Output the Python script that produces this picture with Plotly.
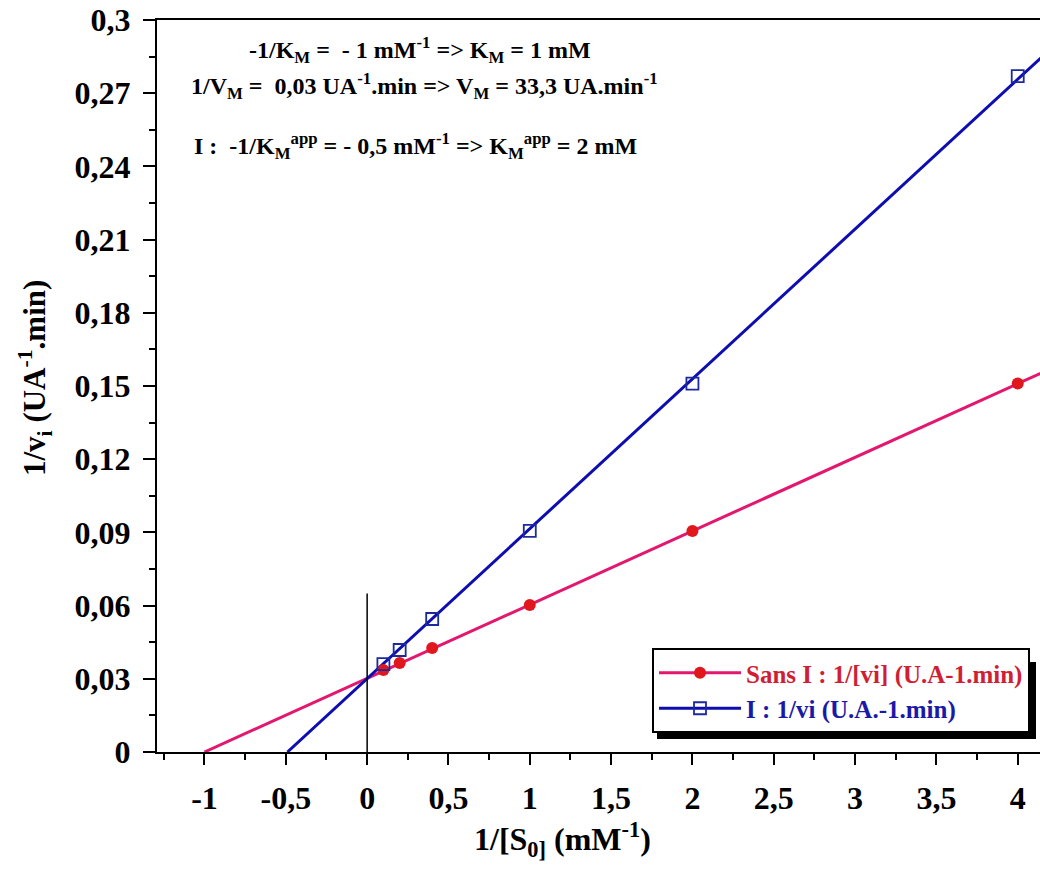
import plotly.graph_objects as go

# ---- data ----
inv_s = [0.1, 0.2, 0.4, 1, 2, 4]
sans_i = [0.0336, 0.0365, 0.0426, 0.0602, 0.0906, 0.151]
avec_i = [0.036, 0.0418, 0.0545, 0.0906, 0.151, 0.277]

sans_fit_x = [-1.0, 4.2]
sans_fit_y = [0.0, 0.157]
avec_fit_x = [-0.49, 4.2]
avec_fit_y = [0.0, 0.288]

x_tick_vals = [-1, -0.5, 0, 0.5, 1, 1.5, 2, 2.5, 3, 3.5, 4]
x_tick_text = ["-1", "-0,5", "0", "0,5", "1", "1,5", "2", "2,5", "3", "3,5", "4"]
y_tick_vals = [0, 0.03, 0.06, 0.09, 0.12, 0.15, 0.18, 0.21, 0.24, 0.27, 0.3]
y_tick_text = ["0", "0,03", "0,06", "0,09", "0,12", "0,15", "0,18", "0,21", "0,24", "0,27", "0,3"]

name_sans = "Sans I : 1/[vi] (U.A-1.min)"
name_avec = "I : 1/vi (U.A.-1.min)"

PINK = "#e3176e"
RED = "#e0181e"
BLUE = "#0d0db0"
BLUE_MK = "#1c2a9c"
SERIF = "Liberation Serif"

W, H = 1040, 875
L, R, T, B = 157, 0, 20, 123
PW, PH = W - L - R, H - T - B


def px(xp):
    return (xp - L) / PW


def py(yp):
    return (H - B - yp) / PH


fig = go.Figure()

fig.add_trace(go.Scatter(x=sans_fit_x, y=sans_fit_y, mode="lines",
                         line=dict(color=PINK, width=3), showlegend=False, hoverinfo="skip"))
fig.add_trace(go.Scatter(x=avec_fit_x, y=avec_fit_y, mode="lines",
                         line=dict(color=BLUE, width=3), showlegend=False, hoverinfo="skip"))
fig.add_trace(go.Scatter(x=inv_s, y=sans_i, mode="markers",
                         marker=dict(symbol="circle", size=12, color=RED), showlegend=False))
fig.add_trace(go.Scatter(x=inv_s, y=avec_i, mode="markers",
                         marker=dict(symbol="square-open", size=12, color=BLUE_MK, line=dict(width=1.8)),
                         showlegend=False))

# legend entries
fig.add_trace(go.Scatter(x=[None], y=[None], mode="lines+markers",
                         name="<span style='color:#d01f35'>" + name_sans + "</span>",
                         line=dict(color=PINK, width=3),
                         marker=dict(symbol="circle", size=12, color=RED)))
fig.add_trace(go.Scatter(x=[None], y=[None], mode="lines+markers",
                         name="<span style='color:#1a1aa8'>" + name_avec + "</span>",
                         line=dict(color=BLUE, width=3),
                         marker=dict(symbol="square-open", size=12, color=BLUE_MK, line=dict(width=1.8))))

# vertical reference line at x = 0
fig.add_shape(type="line", x0=0, x1=0, y0=0, y1=0.065, xref="x", yref="y",
              line=dict(color="black", width=1.5))

# legend shadow
fig.add_shape(type="rect", xref="paper", yref="paper",
              x0=px(657), x1=px(1036), y0=py(739), y1=py(662),
              fillcolor="black", line=dict(width=0), layer="above")

ann_font = dict(family=SERIF, size=24, color="black", weight="bold")
fig.add_annotation(text="-1/K<sub>M</sub> =  - 1 mM<sup>-1</sup> => K<sub>M</sub> = 1 mM",
                   xref="paper", yref="paper", x=px(420), y=py(50), showarrow=False,
                   font=ann_font, xanchor="center", yanchor="middle")
fig.add_annotation(text="1/V<sub>M</sub> =  0,03 UA<sup>-1</sup>.min => V<sub>M</sub> = 33,3 UA.min<sup>-1</sup>",
                   xref="paper", yref="paper", x=px(424), y=py(86), showarrow=False,
                   font=ann_font, xanchor="center", yanchor="middle")
fig.add_annotation(text="I :  -1/K<sub>M</sub><sup>app</sup> = - 0,5 mM<sup>-1</sup> => K<sub>M</sub><sup>app</sup> = 2 mM",
                   xref="paper", yref="paper", x=px(415), y=py(146), showarrow=False,
                   font=ann_font, xanchor="center", yanchor="middle")

title_font = dict(family=SERIF, size=32, color="black", weight="bold")
fig.add_annotation(text="1/[S<sub>0]</sub> (mM<sup>-1</sup>)",
                   xref="paper", yref="paper", x=px(562), y=py(840), showarrow=False,
                   font=title_font, xanchor="center", yanchor="middle")
fig.add_annotation(text="1/v<sub>i</sub> (UA<sup>-1</sup>.min)",
                   xref="paper", yref="paper", x=px(35), y=py(378), showarrow=False,
                   font=dict(family=SERIF, size=31, color="black", weight="bold"),
                   xanchor="center", yanchor="middle", textangle=-90)

tick_font = dict(family=SERIF, size=32, color="black", weight="bold")
fig.update_xaxes(range=[-1.292, 4.137], tickmode="array", tickvals=x_tick_vals, ticktext=x_tick_text,
                 ticks="outside", ticklen=11, tickwidth=2, tickcolor="black",
                 showline=True, linecolor="black", linewidth=2, mirror=True, automargin=False,
                 showgrid=False, zeroline=False, tickfont=tick_font, ticklabelstandoff=6,
                 minor=dict(tick0=-1.25, dtick=0.5, ticks="outside", ticklen=6, tickwidth=2,
                            tickcolor="black", showgrid=False))
fig.update_yaxes(range=[0, 0.3], tickmode="array", tickvals=y_tick_vals, ticktext=y_tick_text,
                 ticks="outside", ticklen=12, tickwidth=2, tickcolor="black",
                 showline=True, linecolor="black", linewidth=2, mirror=False, automargin=False,
                 showgrid=False, zeroline=False, tickfont=tick_font, ticklabelstandoff=6,
                 minor=dict(tick0=0.015, dtick=0.03, ticks="outside", ticklen=6, tickwidth=2,
                            tickcolor="black", showgrid=False))

fig.update_layout(
    width=W, height=H,
    margin=dict(l=L, r=R, t=T, b=B, autoexpand=False),
    paper_bgcolor="white", plot_bgcolor="white",
    showlegend=True,
    legend=dict(x=px(1030), y=py(733), xanchor="right", yanchor="bottom",
                bgcolor="white", bordercolor="black", borderwidth=2,
                font=dict(family=SERIF, size=25, color="black", weight="bold"),
                itemwidth=82),
)

fig.write_html("out.html", config={"displayModeBar": False},
               post_script="document.body.style.margin='0';document.body.style.overflow='hidden';")
